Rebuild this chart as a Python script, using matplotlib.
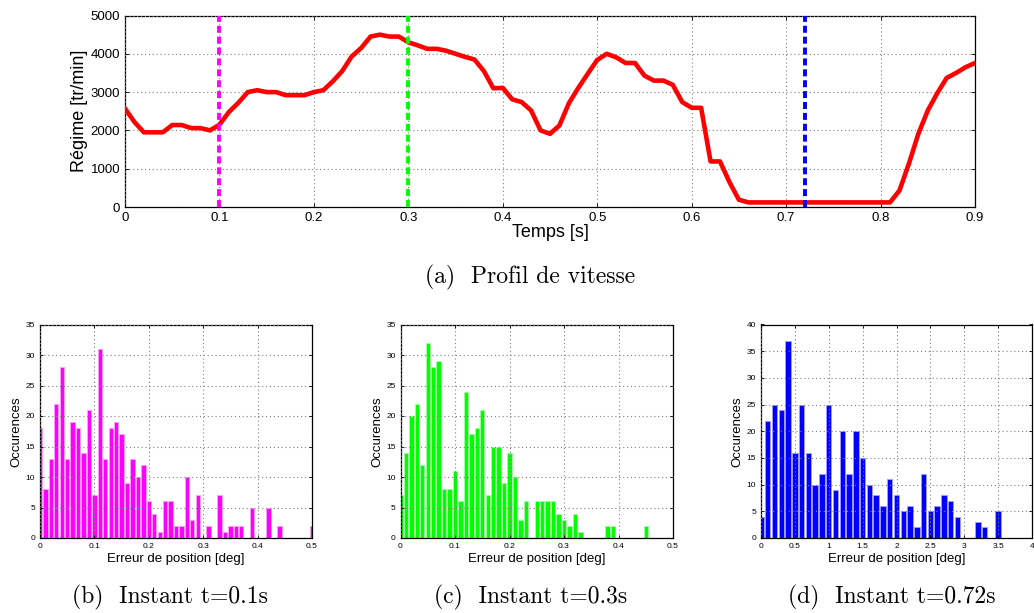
import numpy as np
import matplotlib.pyplot as plt

# speed profile (one sample every 10 ms)
t = np.arange(0, 91) * 0.01
regime = [2570, 2220, 1950, 1950, 1950, 2140, 2140, 2060, 2060, 2000,
          2150, 2480, 2720, 3000, 3050, 3000, 3000, 2920, 2920, 2920,
          3000, 3050, 3280, 3550, 3930, 4150, 4450, 4500, 4450, 4450,
          4300, 4220, 4130, 4130, 4080, 4000, 3920, 3850, 3550, 3100,
          3110, 2810, 2740, 2520, 2000, 1910, 2130, 2710, 3110, 3480,
          3840, 4000, 3910, 3760, 3760, 3430, 3300, 3300, 3190, 2740,
          2590, 2590, 1190, 1190, 650, 190, 120, 120, 120, 120,
          120, 120, 120, 120, 120, 120, 120, 120, 120, 120,
          120, 120, 430, 1130, 1910, 2520, 2970, 3370, 3500, 3650,
          3760]
instants = [0.1, 0.3, 0.72]
instant_colors = ['#ff00ff', '#00ff00', '#0000ff']

# histograms of position error
centres_b = np.arange(0, 51) * 0.01
counts_b = [18, 8, 13, 22, 28, 13, 19, 18, 14, 21,
            7, 31, 13, 18, 19, 17, 9, 13, 10, 12,
            6, 4, 1, 6, 6, 2, 2, 10, 3, 7,
            0, 2, 0, 7, 1, 2, 2, 2, 0, 5,
            0, 0, 5, 0, 2, 0, 0, 0, 0, 0,
            2]
centres_c = np.arange(0, 51) * 0.01
counts_c = [7, 14, 20, 22, 12, 32, 28, 29, 8, 8,
            11, 6, 24, 17, 18, 21, 7, 15, 15, 9,
            14, 10, 3, 6, 0, 6, 6, 6, 6, 4,
            3, 2, 4, 1, 0, 0, 0, 0, 2, 2,
            0, 0, 0, 0, 0, 2, 0, 0, 0, 0,
            0]
centres_d = np.arange(0, 41) * 0.1
counts_d = [4, 22, 25, 24, 37, 16, 25, 16, 10, 12,
            25, 9, 20, 12, 20, 15, 10, 8, 6, 11,
            8, 5, 6, 2, 12, 5, 6, 8, 7, 4,
            0, 0, 3, 2, 0, 5, 0, 0, 0, 0,
            0]

W, H = 1034, 613
fig = plt.figure(figsize=(W / 100, H / 100), dpi=100)

def px_axes(l, r, top, bot):
    return fig.add_axes([l / W, 1 - bot / H, (r - l) / W, (bot - top) / H])

sans = 'Liberation Sans'
serif = 'cmr10'

def style(ax, fs):
    ax.grid(True, linestyle=(0, (1, 2.5)), color='0.5', linewidth=0.8)
    ax.set_axisbelow(False)
    ax.tick_params(direction='in', top=True, right=True, labelsize=fs,
                   length=3, width=0.6)
    for lab in ax.get_xticklabels() + ax.get_yticklabels():
        lab.set_family(sans)
    for s in ax.spines.values():
        s.set_linewidth(0.9)

def fmt(v):
    return '%g' % v

# --- (a) speed profile ---
ax = px_axes(125, 975, 15.5, 207)
ax.plot(t, regime, color='#ff0000', linewidth=3.3, zorder=3)
for ti, c in zip(instants, instant_colors):
    ax.axvline(ti, color=c, linewidth=2.8, dashes=(1.8, 1.0), zorder=4)
ax.set_xlim(0, 0.9)
ax.set_ylim(0, 5000)
ax.set_xticks(np.arange(0, 0.91, 0.1))
ax.set_xticklabels([fmt(round(v, 1)) for v in np.arange(0, 0.91, 0.1)])
ax.set_yticks(np.arange(0, 5001, 1000))
ax.set_yticklabels([fmt(v) for v in range(0, 5001, 1000)])
style(ax, 9.5)
ax.set_xlabel('Temps [s]', fontsize=13, family=sans, labelpad=0)
ax.set_ylabel('Régime [tr/min]', fontsize=13, family=sans, labelpad=2)
fig.text(530 / W, 1 - 277 / H, '(a)  Profil de vitesse', family=serif,
         fontsize=17, ha='center', va='center')

# --- histograms ---
hists = [
    (centres_b, counts_b, 0.01, '#ff00ff', '#ffa0ff', (40, 312), 35,
     np.arange(0, 0.51, 0.1), 170, '(b)  Instant t=0.1s'),
    (centres_c, counts_c, 0.01, '#00ff00', '#a0ffa0', (400.5, 673), 35,
     np.arange(0, 0.51, 0.1), 531, '(c)  Instant t=0.3s'),
    (centres_d, counts_d, 0.1, '#0000ff', '#a0a0ff', (761, 1032), 40,
     np.arange(0, 4.01, 0.5), 892, '(d)  Instant t=0.72s'),
]
for centres, counts, bw, fc, ec, (l, r), ymax, xt, cx, cap in hists:
    ax = px_axes(l, r, 324.5, 538)
    ax.bar(centres, counts, width=bw * 0.8, color=fc, edgecolor=ec,
           linewidth=0.6, zorder=1)
    ax.set_xlim(xt[0], xt[-1])
    ax.set_ylim(0, ymax)
    ax.set_xticks(xt)
    ax.set_xticklabels([fmt(round(v, 1)) for v in xt])
    ax.set_yticks(np.arange(0, ymax + 1, 5))
    ax.set_yticklabels([fmt(v) for v in range(0, ymax + 1, 5)])
    style(ax, 6)
    ax.tick_params(length=2)
    ax.set_xlabel('Erreur de position [deg]', fontsize=9.5, family=sans,
                  labelpad=2)
    ax.set_ylabel('Occurences', fontsize=9.5, family=sans, labelpad=2)
    fig.text(cx / W, 1 - 597 / H, cap, family=serif, fontsize=17,
             ha='center', va='center')

fig.savefig('out.png', dpi=100)
